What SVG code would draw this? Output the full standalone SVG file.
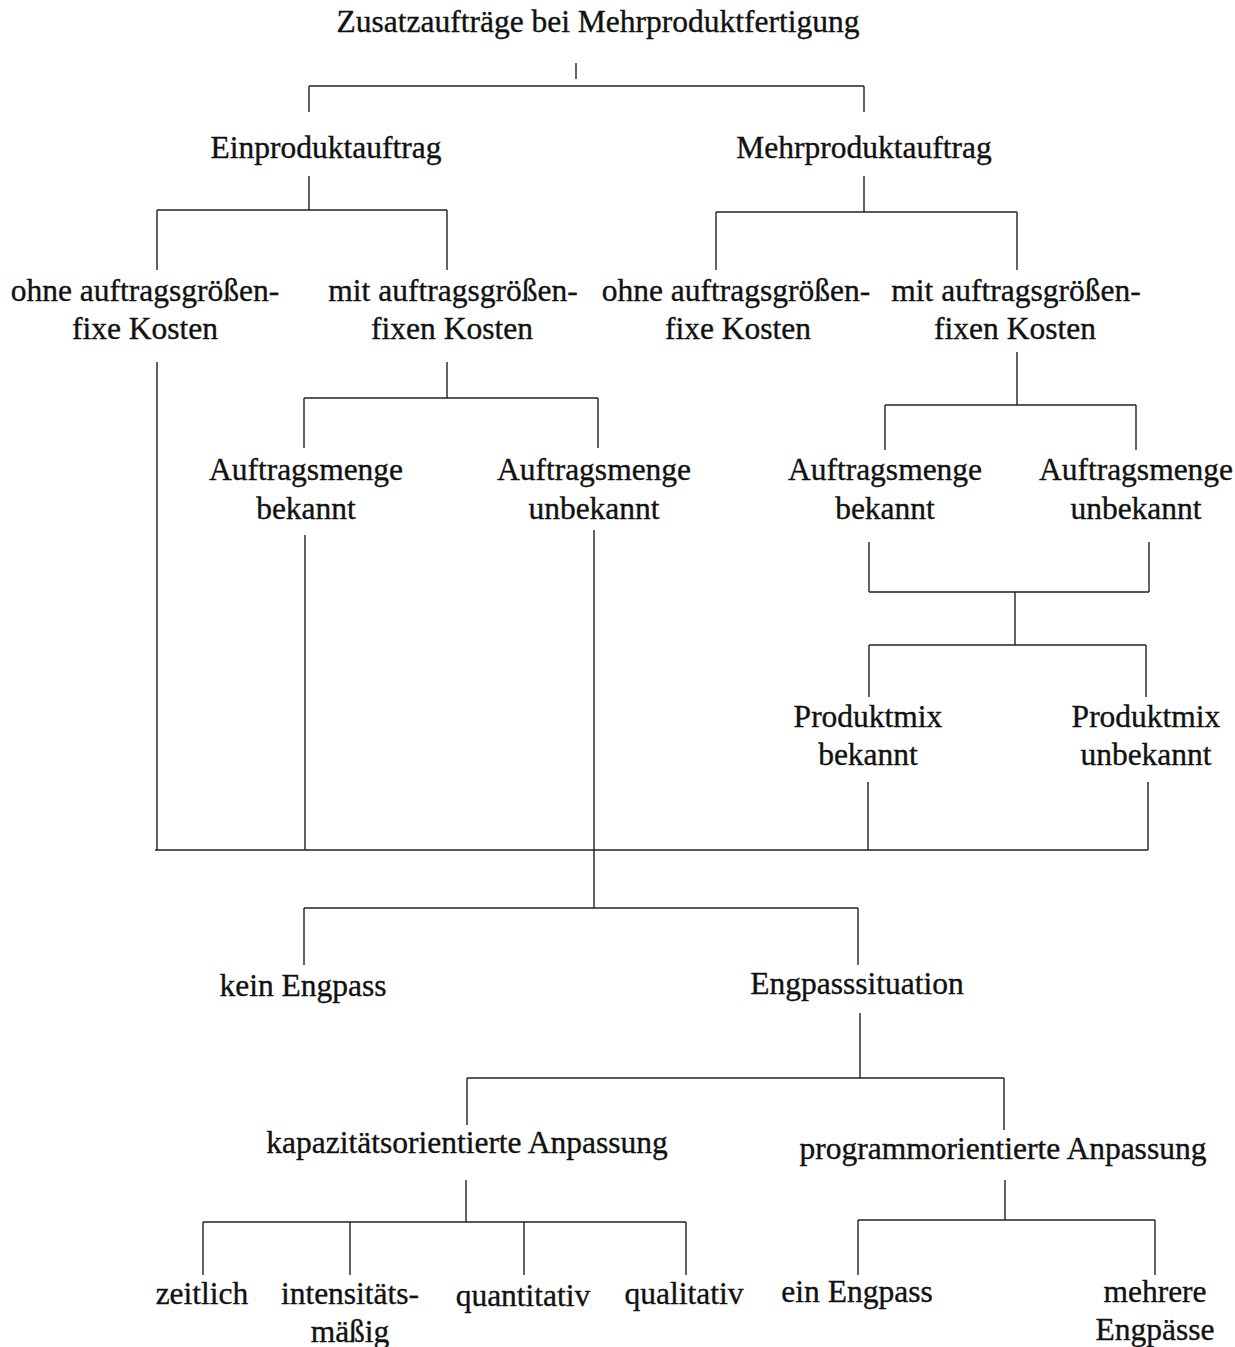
<svg xmlns="http://www.w3.org/2000/svg" width="1235" height="1347" viewBox="0 0 1235 1347">
<style>
text{font-family:"Liberation Serif","Times New Roman",serif;font-size:31.5px;fill:#111;stroke:#111;stroke-width:0.35;text-anchor:middle}
.c line{stroke:#222;stroke-width:1.4;fill:none}
</style>
<rect width="1235" height="1347" fill="#fff"/>
<g class="c" id="connectors">
<line x1="576" y1="63" x2="576" y2="79"/>
<line x1="309" y1="86" x2="864" y2="86"/>
<line x1="309" y1="86" x2="309" y2="112"/>
<line x1="864" y1="86" x2="864" y2="112"/>
<line x1="309" y1="176" x2="309" y2="210"/>
<line x1="157" y1="210" x2="447" y2="210"/>
<line x1="157" y1="210" x2="157" y2="270"/>
<line x1="447" y1="210" x2="447" y2="270"/>
<line x1="864" y1="176" x2="864" y2="212"/>
<line x1="716" y1="212" x2="1017" y2="212"/>
<line x1="716" y1="212" x2="716" y2="270"/>
<line x1="1017" y1="212" x2="1017" y2="270"/>
<line x1="157" y1="362" x2="157" y2="850"/>
<line x1="447" y1="362" x2="447" y2="398"/>
<line x1="304" y1="398" x2="598" y2="398"/>
<line x1="304" y1="398" x2="304" y2="448"/>
<line x1="598" y1="398" x2="598" y2="448"/>
<line x1="305" y1="535" x2="305" y2="850"/>
<line x1="594" y1="530" x2="594" y2="908"/>
<line x1="1017" y1="352" x2="1017" y2="405"/>
<line x1="885" y1="405" x2="1136" y2="405"/>
<line x1="885" y1="405" x2="885" y2="450"/>
<line x1="1136" y1="405" x2="1136" y2="450"/>
<line x1="869" y1="542" x2="869" y2="592"/>
<line x1="1149" y1="542" x2="1149" y2="592"/>
<line x1="869" y1="592" x2="1149" y2="592"/>
<line x1="1015" y1="592" x2="1015" y2="645"/>
<line x1="869" y1="645" x2="1146" y2="645"/>
<line x1="869" y1="645" x2="869" y2="697"/>
<line x1="1146" y1="645" x2="1146" y2="697"/>
<line x1="868" y1="782" x2="868" y2="850"/>
<line x1="1148" y1="782" x2="1148" y2="850"/>
<line x1="155" y1="850" x2="1148" y2="850"/>
<line x1="304" y1="908" x2="858" y2="908"/>
<line x1="304" y1="908" x2="304" y2="965"/>
<line x1="858" y1="908" x2="858" y2="965"/>
<line x1="860" y1="1013" x2="860" y2="1078"/>
<line x1="467" y1="1078" x2="1004" y2="1078"/>
<line x1="467" y1="1078" x2="467" y2="1125"/>
<line x1="1004" y1="1078" x2="1004" y2="1130"/>
<line x1="466" y1="1180" x2="466" y2="1222"/>
<line x1="203" y1="1222" x2="686" y2="1222"/>
<line x1="203" y1="1222" x2="203" y2="1275"/>
<line x1="350" y1="1222" x2="350" y2="1275"/>
<line x1="524" y1="1222" x2="524" y2="1275"/>
<line x1="686" y1="1222" x2="686" y2="1275"/>
<line x1="1005" y1="1180" x2="1005" y2="1220"/>
<line x1="858" y1="1220" x2="1155" y2="1220"/>
<line x1="858" y1="1220" x2="858" y2="1275"/>
<line x1="1155" y1="1220" x2="1155" y2="1275"/>
</g>
<g id="n-root"><text x="598" y="32">Zusatzaufträge bei Mehrproduktfertigung</text></g>
<g id="n-einprodukt"><text x="326" y="158">Einproduktauftrag</text></g>
<g id="n-mehrprodukt"><text x="864" y="158">Mehrproduktauftrag</text></g>
<g id="n-ein-ohne"><text x="145" y="301">ohne auftragsgrößen-</text><text x="145" y="339">fixe Kosten</text></g>
<g id="n-ein-mit"><text x="453" y="301">mit auftragsgrößen-</text><text x="452" y="339">fixen Kosten</text></g>
<g id="n-mehr-ohne"><text x="736" y="301">ohne auftragsgrößen-</text><text x="738" y="339">fixe Kosten</text></g>
<g id="n-mehr-mit"><text x="1016" y="301">mit auftragsgrößen-</text><text x="1015" y="339">fixen Kosten</text></g>
<g id="n-ein-menge-bek"><text x="306" y="480">Auftragsmenge</text><text x="306" y="519">bekannt</text></g>
<g id="n-ein-menge-unbek"><text x="594" y="480">Auftragsmenge</text><text x="594" y="519">unbekannt</text></g>
<g id="n-mehr-menge-bek"><text x="885" y="480">Auftragsmenge</text><text x="885" y="519">bekannt</text></g>
<g id="n-mehr-menge-unbek"><text x="1136" y="480">Auftragsmenge</text><text x="1136" y="519">unbekannt</text></g>
<g id="n-mix-bek"><text x="868" y="727">Produktmix</text><text x="868" y="765">bekannt</text></g>
<g id="n-mix-unbek"><text x="1146" y="727">Produktmix</text><text x="1146" y="765">unbekannt</text></g>
<g id="n-kein"><text x="303" y="996">kein Engpass</text></g>
<g id="n-engpass"><text x="857" y="994">Engpasssituation</text></g>
<g id="n-kap"><text x="467" y="1153">kapazitätsorientierte Anpassung</text></g>
<g id="n-prog"><text x="1003" y="1159">programmorientierte Anpassung</text></g>
<g id="n-zeit"><text x="202" y="1304">zeitlich</text></g>
<g id="n-int"><text x="350" y="1304">intensitäts-</text><text x="350" y="1342">mäßig</text></g>
<g id="n-quant"><text x="523" y="1306">quantitativ</text></g>
<g id="n-qual"><text x="684" y="1304">qualitativ</text></g>
<g id="n-ein"><text x="857" y="1302">ein Engpass</text></g>
<g id="n-mehrere"><text x="1155" y="1302">mehrere</text><text x="1155" y="1340">Engpässe</text></g>
</svg>
